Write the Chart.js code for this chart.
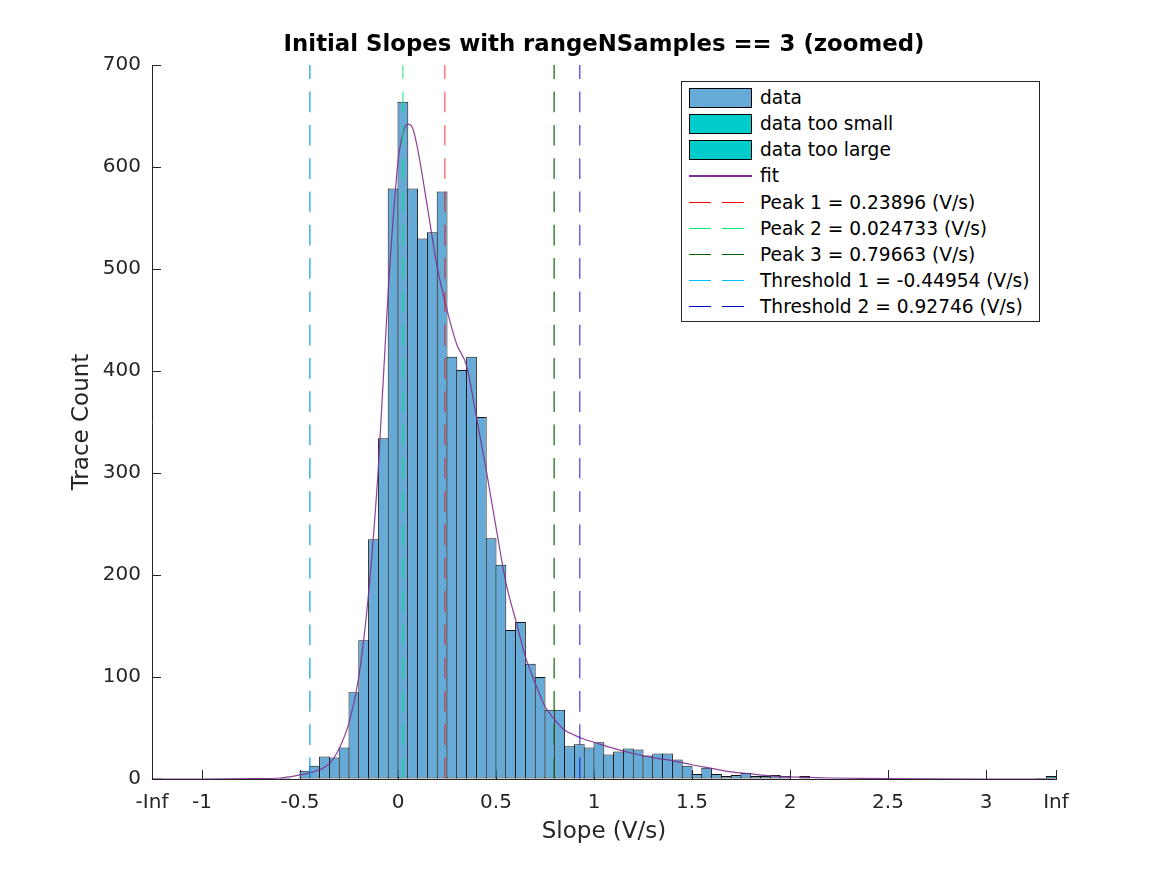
<!DOCTYPE html>
<html>
<head>
<meta charset="utf-8">
<script src="https://cdn.jsdelivr.net/npm/chart.js@4/dist/chart.umd.min.js"></script>
<style>
html,body{margin:0;padding:0;background:#fff;}
#wrap{position:relative;width:1167px;height:875px;}
#c{position:absolute;left:0;top:0;}
#legend{position:absolute;left:681px;top:81px;width:357px;height:239px;border:1px solid #262626;background:#fff;font-family:'DejaVu Sans';font-size:18.6px;color:#000;}
.row{position:absolute;left:0;width:100%;height:26px;}
.sw{position:absolute;left:7px;top:3px;width:61px;height:18px;border:1px solid #000;}
.ln{position:absolute;left:7px;top:12px;width:63px;height:1.3px;}
.tx{position:absolute;left:78px;top:0;line-height:26px;white-space:nowrap;}
</style>
</head>
<body>
<div id="wrap">
<canvas id="c" width="1167" height="875"></canvas>
<div id="legend"></div>
</div>
<script>
// ---- data ----
const binLeftEdges = [-0.60,-0.55,-0.50,-0.45,-0.40,-0.35,-0.30,-0.25,-0.20,-0.15,-0.10,-0.05,
  0.00,0.05,0.10,0.15,0.20,0.25,0.30,0.35,0.40,0.45,0.50,0.55,0.60,0.65,0.70,0.75,0.80,0.85,0.90,0.95,
  1.00,1.05,1.10,1.15,1.20,1.25,1.30,1.35,1.40,1.45,1.50,1.55,1.60,1.65,1.70,1.75,1.80,1.85,1.90,1.95,
  2.00,2.05,3.25];
const binCounts = [1,0,8,13,22,21,31,85,136,235,334,579,
  664,579,530,536,576,414,401,414,355,236,210,146,154,113,100,68,68,32,34,31,
  36,24,27,30,29,23,25,25,19,13,5,11,5,3,4,6,3,3,4,3,
  0,3,1];
const binWidth = 0.05;
const tooSmallX = [-1.23];
const tooSmallCounts = [1];
const tooLargeX = [3.332];
const tooLargeCounts = [3];
const fitX = [-1.25,-1.0,-0.75,-0.6,-0.5,-0.45,-0.4,-0.35,-0.3,-0.25,-0.2,-0.15,-0.1,-0.05,0.0,0.025,0.05,0.075,0.1,0.15,0.2,0.25,0.3,0.35,0.4,0.45,0.5,0.55,0.6,0.65,0.7,0.75,0.8,0.85,0.9,0.95,1.0,1.1,1.2,1.3,1.4,1.5,1.6,1.7,1.8,1.9,2.0,2.2,2.5,3.0,3.35];
const fitY = [0,0,0.3,1,4,6,9,15,30,55,100,182,306,478,605,633,642,638,618,561,502,460,426,405,355,303,247,193,156,120,94,71,58,48,43,39,36,30,25,21,18,14,10.5,7,5,3,2,1,0.3,0,0];
const lineLabels = ['Peak 1 = 0.23896 (V/s)','Peak 2 = 0.024733 (V/s)','Peak 3 = 0.79663 (V/s)','Threshold 1 = -0.44954 (V/s)','Threshold 2 = 0.92746 (V/s)'];
const lineValues = [0.23896, 0.024733, 0.79663, -0.44954, 0.92746];
const lineColors = ['#ff0000','#00ee77','#006400','#00bfff','#0000cd'];
const lineColorsPlot = ['rgba(255,0,0,0.6)','rgba(0,230,120,0.7)','rgba(0,100,0,0.9)','rgba(0,160,235,0.9)','rgba(0,0,230,0.7)'];
const xTickValues = [-1.255,-1,-0.5,0,0.5,1,1.5,2,2.5,3,3.357];
const xTickLabels = ['-Inf','-1','-0.5','0','0.5','1','1.5','2','2.5','3','Inf'];
const yTickValues = [0,100,200,300,400,500,600,700];
const chartTitle = 'Initial Slopes with rangeNSamples == 3 (zoomed)';

const FONT = 'DejaVu Sans';
const TXT = '#262626';
Chart.defaults.font.family = FONT;
Chart.defaults.color = TXT;

const datasets = [
  {type:'bar', label:'data', data: binLeftEdges.map((e,i)=>({x:e+binWidth/2, y:binCounts[i]})),
   backgroundColor:'#66aad7', borderColor:'#111', borderWidth:1, borderSkipped:false,
   barPercentage:1.1, categoryPercentage:1, grouped:false, order:10},
  {type:'bar', label:'data too small', data: tooSmallX.map((e,i)=>({x:e, y:tooSmallCounts[i]})),
   backgroundColor:'#00cccc', borderColor:'#111', borderWidth:1, borderSkipped:false,
   barPercentage:1.1, categoryPercentage:1, grouped:false, order:10},
  {type:'bar', label:'data too large', data: tooLargeX.map((e,i)=>({x:e, y:tooLargeCounts[i]})),
   backgroundColor:'#00cccc', borderColor:'#111', borderWidth:1, borderSkipped:false,
   barPercentage:1.1, categoryPercentage:1, grouped:false, order:10},
  {type:'line', label:'fit', data: fitX.map((x,i)=>({x, y:fitY[i]})),
   borderColor:'rgba(126,47,142,0.9)', borderWidth:1.2, pointRadius:0, cubicInterpolationMode:'monotone', order:1,
   legendColor:'#7e2f8e'}
];
lineValues.forEach((v,i)=>{
  datasets.push({type:'line', label:lineLabels[i], data:[{x:v,y:700},{x:v,y:0}],
    borderColor:lineColorsPlot[i], borderWidth:1.3, borderDash:[20.7,12.6], borderDashOffset:6.7,
    pointRadius:0, order:0, legendColor:lineColors[i], dashed:true});
});

const inwardTicks = {
  id:'inwardTicks',
  beforeDatasetsDraw(chart){
    const {ctx, chartArea:a, scales:{x,y}} = chart;
    ctx.save(); ctx.strokeStyle = TXT; ctx.lineWidth = 1; ctx.beginPath();
    x.ticks.forEach(t=>{const px=Math.round(x.getPixelForValue(t.value))+0.5; ctx.moveTo(px,a.bottom); ctx.lineTo(px,a.bottom-9);});
    y.ticks.forEach(t=>{const py=Math.round(y.getPixelForValue(t.value))+0.5; ctx.moveTo(a.left,py); ctx.lineTo(a.left+9,py);});
    ctx.stroke(); ctx.restore();
  }
};

const chart = new Chart(document.getElementById('c'), {
  type:'bar',
  data:{datasets},
  plugins:[inwardTicks],
  options:{
    responsive:false, animation:false, devicePixelRatio:1,
    layout:{padding:{left:0,right:111,top:0,bottom:0}},
    plugins:{ legend:{display:false}, tooltip:{enabled:false}, title:{display:false} },
    scales:{
      x:{type:'linear', min:-1.255, max:3.357, offset:false,
        afterBuildTicks:(s)=>{s.ticks = xTickValues.map(v=>({value:v}));},
        afterFit:(s)=>{s.height = 96;},
        ticks:{autoSkip:false, maxRotation:0, padding:12, color:TXT, font:{size:20},
          callback:(v)=>{const i=xTickValues.indexOf(v); return i>=0?xTickLabels[i]:'';}},
        grid:{display:true, drawOnChartArea:false, drawTicks:false},
        border:{display:true, color:TXT, width:1},
        title:{display:true, text:'Slope (V/s)', color:TXT, font:{size:23}, padding:{top:0,bottom:29.2}}
      },
      xTop:{type:'linear', position:'top', min:-1.255, max:3.357, offset:false,
        afterFit:(s)=>{s.height = 65;},
        ticks:{display:false}, grid:{display:false, drawTicks:false}, border:{display:false},
        title:{display:true, text:chartTitle, color:'#000', font:{size:22.8, weight:'bold'}, padding:{top:31,bottom:0}}
      },
      y:{type:'linear', min:0, max:700,
        afterBuildTicks:(s)=>{s.ticks = yTickValues.map(v=>({value:v}));},
        afterFit:(s)=>{s.width = 152;},
        ticks:{padding:11, color:TXT, font:{size:20}},
        grid:{display:true, drawOnChartArea:false, drawTicks:false},
        border:{display:true, color:TXT, width:1},
        title:{display:true, text:'Trace Count', color:TXT, font:{size:23}, padding:{top:68.2,bottom:0}}
      }
    }
  }
});

// HTML legend built from chart datasets
const leg = document.getElementById('legend');
chart.data.datasets.forEach((ds,i)=>{
  const row = document.createElement('div');
  row.className='row';
  row.style.top = (3.0 + 26.15*i) + 'px';
  let mark;
  if (ds.type==='bar'){
    mark = document.createElement('div'); mark.className='sw'; mark.style.background = ds.backgroundColor;
  } else {
    mark = document.createElement('div'); mark.className='ln';
    const c = ds.legendColor;
    if (ds.dashed){
      mark.style.background = `linear-gradient(to right, ${c} 0 22px, transparent 22px 33.5px, ${c} 33.5px 55px, transparent 55px)`;
    } else {
      mark.style.background = c;
    }
  }
  const tx = document.createElement('div'); tx.className='tx'; tx.textContent = ds.label;
  row.appendChild(mark); row.appendChild(tx); leg.appendChild(row);
});
</script>
</body>
</html>
